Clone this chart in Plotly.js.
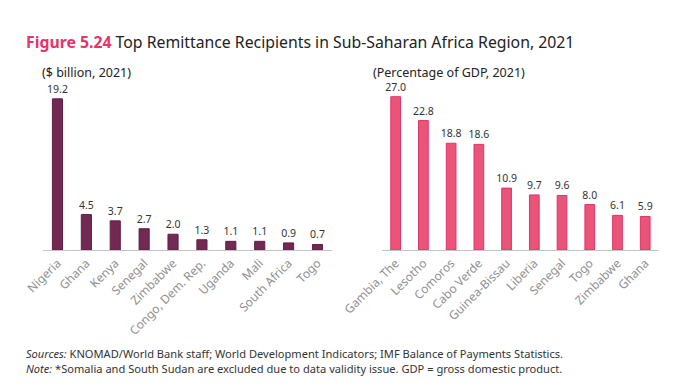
<!DOCTYPE html>
<html>
<head>
<meta charset="utf-8">
<script src="https://cdn.plot.ly/plotly-3.0.1.min.js"></script>
<style>html,body{margin:0;padding:0;background:#fff;}#chart{width:683px;height:384px;}</style>
</head>
<body>
<div id="chart"></div>
<script>
var leftCountries = ["Nigeria", "Ghana", "Kenya", "Senegal", "Zimbabwe", "Congo, Dem. Rep.", "Uganda", "Mali", "South Africa", "Togo"];
var leftValues = [19.2, 4.5, 3.7, 2.7, 2.0, 1.3, 1.1, 1.1, 0.9, 0.7];
var rightCountries = ["Gambia, The", "Lesotho", "Comoros", "Cabo Verde", "Guinea-Bissau", "Liberia", "Senegal", "Togo", "Zimbabwe", "Ghana"];
var rightValues = [27.0, 22.8, 18.8, 18.6, 10.9, 9.7, 9.6, 8.0, 6.1, 5.9];

var font = "'Noto Sans', Lato, sans-serif";
var traces = [
  {type: "bar", x: leftCountries, y: leftValues, xaxis: "x", yaxis: "y",
   marker: {color: "#722953", line: {color: "#5e1f44", width: 1}},
   text: leftValues.map(function(v){return v.toFixed(1);}), textposition: "outside", constraintext: "none",
   textfont: {size: 10.5, color: "#333", family: font}, cliponaxis: false, hoverinfo: "none"},
  {type: "bar", x: rightCountries, y: rightValues, xaxis: "x2", yaxis: "y2",
   marker: {color: "#EA5479", line: {color: "#E0336A", width: 1}},
   text: rightValues.map(function(v){return v.toFixed(1);}), textposition: "outside", constraintext: "none",
   textfont: {size: 10.5, color: "#333", family: font}, cliponaxis: false, hoverinfo: "none"}
];

var xax = {type: "category", tickangle: -45, showline: true, linecolor: "#c4c4c4", linewidth: 1.5,
  ticks: "", showgrid: false, zeroline: false, tickfont: {size: 12, color: "#909090", family: font}, range: [-0.5, 9.5]};
var yax = {visible: false, showgrid: false, zeroline: false};

var layout = {
  width: 683, height: 384,
  margin: {l: 0, r: 0, t: 0, b: 0},
  paper_bgcolor: "#fff", plot_bgcolor: "#fff",
  showlegend: false,
  bargap: 0.65,
  font: {family: font, color: "#222"},
  xaxis: Object.assign({}, xax, {domain: [0.063, 0.486], anchor: "y"}),
  yaxis: Object.assign({}, yax, {domain: [0.349, 0.76], range: [0, 20.05], anchor: "x"}),
  xaxis2: Object.assign({}, xax, {domain: [0.559, 0.965], anchor: "y2"}),
  yaxis2: Object.assign({}, yax, {domain: [0.349, 0.76], range: [0, 27.8], anchor: "x2"}),
  annotations: [
    {xref: "paper", yref: "paper", x: 24/683, y: 1 - 42/384, xanchor: "left", yanchor: "middle", showarrow: false,
     text: "<b><span style='color:#E8336B'>Figure 5.24</span></b> Top Remittance Recipients in Sub-Saharan Africa Region, 2021",
     font: {size: 15.8, color: "#222", family: font}},
    {xref: "paper", yref: "paper", x: 40/683, y: 1 - 72/384, xanchor: "left", yanchor: "middle", showarrow: false,
     text: "($ billion, 2021)", font: {size: 12.5, color: "#222", family: font}},
    {xref: "paper", yref: "paper", x: 371/683, y: 1 - 72/384, xanchor: "left", yanchor: "middle", showarrow: false,
     text: "(Percentage of GDP, 2021)", font: {size: 12.5, color: "#222", family: font}},
    {xref: "paper", yref: "paper", x: 24/683, y: 1 - 353/384, xanchor: "left", yanchor: "middle", showarrow: false,
     text: "<i>Sources:</i> KNOMAD/World Bank staff; World Development Indicators; IMF Balance of Payments Statistics.",
     font: {size: 11.1, color: "#333", family: font}},
    {xref: "paper", yref: "paper", x: 24/683, y: 1 - 368/384, xanchor: "left", yanchor: "middle", showarrow: false,
     text: "<i>Note:</i> *Somalia and South Sudan are excluded due to data validity issue. GDP = gross domestic product.",
     font: {size: 11.1, color: "#333", family: font}}
  ]
};

Plotly.newPlot("chart", traces, layout, {staticPlot: true, displayModeBar: false});
</script>
</body>
</html>
